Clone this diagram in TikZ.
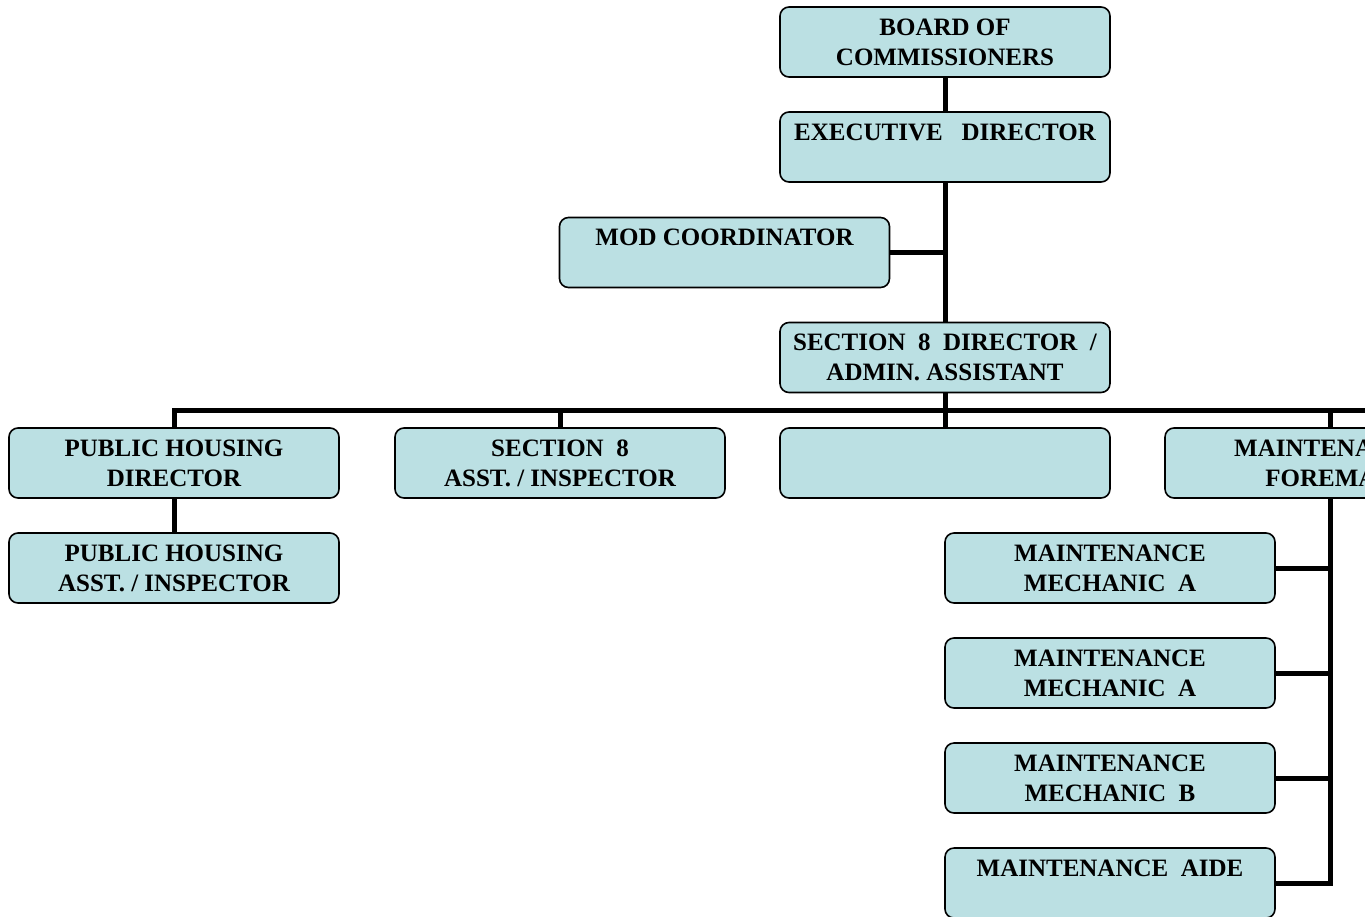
\documentclass[tikz,border=0pt]{standalone}
\usepackage{fontspec}
\setmainfont{Liberation Serif}
\definecolor{boxblue}{RGB}{187,224,227}
\tikzset{
  post/.style={draw=black, line width=1.6pt, rounded corners=9pt, fill=boxblue,
    minimum width=330pt, minimum height=70pt, inner sep=0pt, align=center,
    font=\fontsize{25}{30}\selectfont\bfseries},
  conn/.style={line width=5pt}
}
\begin{document}
\begin{tikzpicture}[x=1pt, y=-1pt]
    \useasboundingbox (0,0) rectangle (1365,916);
    \clip (0,0) rectangle (1365,916);
    % 
    \node[post] (board) at (945,42) {BOARD OF\\COMMISSIONERS};
    % 
    \node[post] (exec) at (945,147) {EXECUTIVE\ \ \ DIRECTOR\\\mbox{}};
    % 
    \node[post] (mod) at (724.5,252.5) {MOD COORDINATOR\\\mbox{}};
    % 
    \node[post] (secdir) at (945,357.5) {SECTION\ \ 8\ \ DIRECTOR\ \ /\\ADMIN. ASSISTANT};
    %%%%%%%%%%%%%%%%%%%%%% 
    \node[post] (phdir) at (174,463) {PUBLIC HOUSING\\DIRECTOR};
    % 
    \node[post] (secasst) at (560,463) {SECTION\ \ 8\\ASST. / INSPECTOR};
    % 
    \node[post] (blank) at (945,463) {};
    % 
    \node[post] (foreman) at (1330,463) {MAINTENANCE\\FOREMAN};
    %%%%%%%%%%%%%%%%%%%%%% 
    \node[post] (phasst) at (174,568) {PUBLIC HOUSING\\ASST. / INSPECTOR};
    % 
    \node[post] (mecha) at (1110,568) {MAINTENANCE\\MECHANIC\ \ A};
    % 
    \node[post] (mechb) at (1110,673) {MAINTENANCE\\MECHANIC\ \ A};
    % 
    \node[post] (mechc) at (1110,778) {MAINTENANCE\\MECHANIC\ \ B};
    % 
    \node[post] (aide) at (1110,883) {MAINTENANCE\ \ AIDE\\\mbox{}};
    %%%%%%%%%%%%%%%%%%%%%% 
    \coordinate (bus) at (1420,410);
    % 
    \draw[conn] (board) -- (exec);
    \draw[conn] (exec) -- (secdir);
    \draw[conn] (mod.east) -- (mod.east -| exec.south);
    % 
    \draw[conn] (phdir.north) |- (bus);
    \draw[conn] (secasst.north) -- (secasst.north |- bus);
    \draw[conn] (secdir) -- (blank);
    \draw[conn] (foreman.north) -- (foreman.north |- bus);
    % 
    \draw[conn] (phdir) -- (phasst);
    % 
    \draw[conn] (foreman.south) |- (aide.east);
    \foreach \m in {mecha,mechb,mechc}
      \draw[conn] (\m.east) -- (\m.east -| foreman.south);
\end{tikzpicture}
\end{document}
